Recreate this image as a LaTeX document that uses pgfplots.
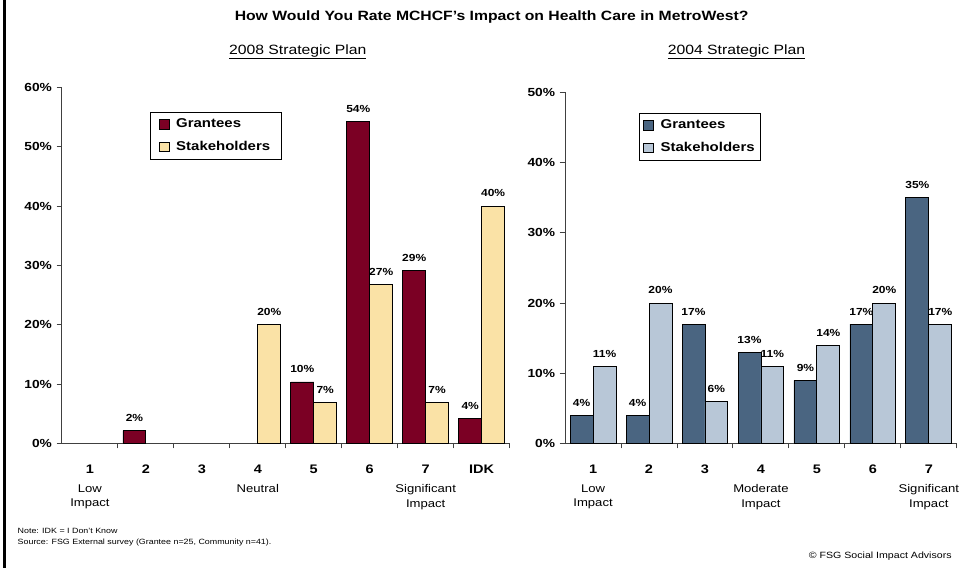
\documentclass[border=0pt]{standalone}
\usepackage{pgfplots}
\pgfplotsset{compat=1.18}
\usepackage{fontspec}
\setmainfont{Liberation Sans}[FakeStretch=1.17]
\definecolor{maroonbar}{HTML}{7B0024}
\definecolor{yellowbar}{HTML}{FAE2A6}
\definecolor{bluebar}{HTML}{4A6581}
\definecolor{palebluebar}{HTML}{B8C7D7}

\pgfplotsset{
  surveybars/.style={
    scale only axis, clip=false,
    ybar=0pt, bar width=17.2pt,
    ymin=0,
    axis lines*=left,
    axis line style={black!75, line width=0.7pt},
    tick align=outside,
    tick style={black!75, line width=0.7pt},
    major tick length=4pt, minor tick length=3.5pt,
    major x tick style={draw=none},
    /pgf/number format/assume math mode=true,
    yticklabel={\pgfmathprintnumber{\tick}\%},
    yticklabel style={font=\bfseries\fontsize{8.8}{10}\selectfont},
    xticklabel style={font=\bfseries\fontsize{9.3}{10}\selectfont, yshift=-8.5pt},
    every axis plot/.append style={draw=black, line width=0.6pt},
    nodes near coords={\pgfmathprintnumber[fixed,precision=0]{\pgfplotspointmeta}\%},
    nodes near coords style={font=\bfseries\fontsize{7.7}{9}\selectfont, anchor=south, inner sep=0pt, yshift=6.5pt, text=black},
    legend image code/.code={\draw[#1, line width=0.5pt] (0pt,-3.7pt) rectangle (7.4pt,3.7pt); \path (0pt,0pt) (10.5pt,0pt);},
    legend cell align=left,
    legend style={draw=black, line width=0.6pt, font=\bfseries\fontsize{9.6}{11}\selectfont,
      row sep=4.5pt, inner ysep=3pt, anchor=north west},
  },
}
\tikzset{desc/.style={font=\fontsize{8.4}{10.8}\selectfont, align=center, anchor=north, inner sep=0pt}}

\begin{document}
\begin{tikzpicture}
\begin{scope}[x=0.75pt,y=-0.75pt,shift={(0pt,426pt)}]
\path[use as bounding box] (0,0) rectangle (959,568);
\draw[line width=1.9pt] (4.5,0) -- (4.5,568);
\node[font=\bfseries\fontsize{10.1}{12}\selectfont] at (492,17) {How Would You Rate MCHCF’s Impact on Health Care in MetroWest?};
\node[font=\fontsize{10.1}{12}\selectfont] at (298,52) {\underline{2008 Strategic Plan}};
\node[font=\fontsize{10.1}{12}\selectfont] at (737,52) {\underline{2004 Strategic Plan}};
\node[anchor=west, font=\fontsize{5.7}{7}\selectfont] at (13,531) {Note: IDK = I Don’t Know};
\node[anchor=west, font=\fontsize{5.7}{7}\selectfont] at (13,543) {Source: FSG External survey (Grantee n=25, Community n=41).};
\node[anchor=east, font=\fontsize{6.8}{8}\selectfont] at (957,557) {© FSG Social Impact Advisors};
\end{scope}

% 2008 Strategic Plan
\begin{axis}[surveybars,
  at={(46.5pt,93pt)}, anchor=south west,
  width=336pt, height=267.5pt,
  xmin=0.5, xmax=8.5, ymax=60,
  xtick={1,...,8}, xticklabels={1,2,3,4,5,6,7,IDK},
  minor xtick={1.5,2.5,...,8.5},
  ytick={0,10,...,60},
  legend style={at={(rel axis cs:0.196,0.931)}, inner xsep=6.5pt},
]
\addplot[fill=maroonbar] coordinates {(2,2.2) (5,10.4) (6,54.2) (7,29.2) (8,4.2)};
\addplot[fill=yellowbar] coordinates {(4,20) (5,6.9) (6,26.8) (7,6.9) (8,40)};
\legend{Grantees,Stakeholders}
\node[desc] at (axis cs:1,0) [yshift=-30.5pt] {Low\\Impact};
\node[desc] at (axis cs:4,0) [yshift=-30.5pt] {Neutral};
\node[desc] at (axis cs:7,0) [yshift=-30.5pt] {Significant\\Impact};
\end{axis}

% 2004 Strategic Plan
\begin{axis}[surveybars,
  at={(424.1pt,93pt)}, anchor=south west,
  width=294pt, height=263.8pt,
  xmin=0.5, xmax=7.5, ymax=50,
  xtick={1,...,7}, xticklabels={1,2,3,4,5,6,7},
  minor xtick={1.5,2.5,...,7.5},
  ytick={0,10,...,50},
  legend style={at={(rel axis cs:0.19,0.941)}, inner xsep=2.5pt},
]
\addplot[fill=bluebar] coordinates {(1,4) (2,4) (3,17) (4,13) (5,9) (6,17) (7,35)};
\addplot[fill=palebluebar] coordinates {(1,11) (2,20) (3,6) (4,11) (5,14) (6,20) (7,17)};
\legend{Grantees,Stakeholders}
\node[desc] at (axis cs:1,0) [yshift=-30.5pt] {Low\\Impact};
\node[desc] at (axis cs:4,0) [yshift=-30.5pt] {Moderate\\Impact};
\node[desc] at (axis cs:7,0) [yshift=-30.5pt] {Significant\\Impact};
\end{axis}
\end{tikzpicture}
\end{document}
